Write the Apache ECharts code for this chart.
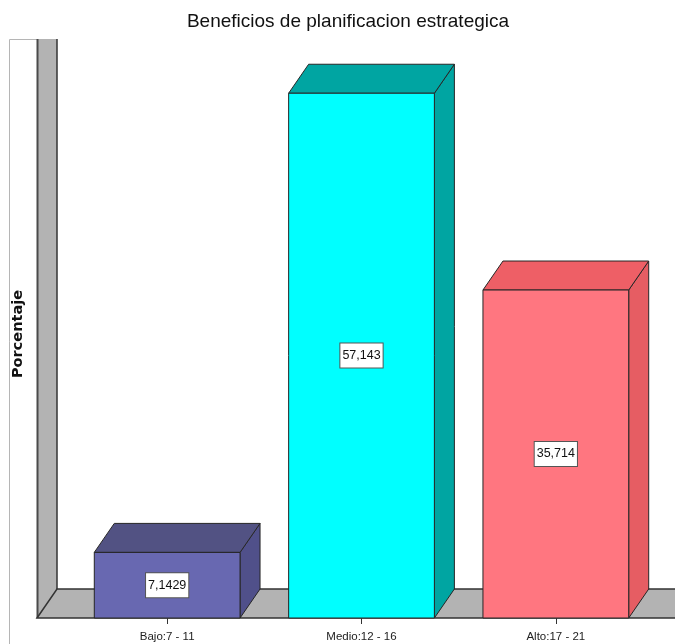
<!DOCTYPE html>
<html>
<head>
<meta charset="utf-8">
<script src="https://cdn.jsdelivr.net/npm/echarts@6/dist/echarts.min.js"></script>
<style>
  html, body { margin: 0; padding: 0; background: #fff; }
  #chart { width: 675px; height: 644px; }
</style>
</head>
<body>
<div id="chart"></div>
<script>
// Data
const categories = ['Bajo:7 - 11', 'Medio:12 - 16', 'Alto:17 - 21'];
const percentages = [7.1429, 57.143, 35.714];
const frontColors = ['#6868b1', '#00ffff', '#ff7680'];
const topColors = ['#525283', '#00a5a2', '#ee5f66'];
const sideColors = ['#50508a', '#00a5a2', '#e65d63'];

// Layout
const GRID = { left: 70, right: 22, top: 67, bottom: 26 };
const DEPTH_X = 20, DEPTH_Y = 29;
const W = 675, H = 644;
const floorY = H - GRID.bottom;
const wallX = 37;
const FONT = 'Liberation Sans, Arial, sans-serif';

const chart = echarts.init(document.getElementById('chart'), null, { renderer: 'canvas' });

// Draws one 3D box (front, top and side faces) plus its value tag
function renderBox(params, api) {
  const i = params.dataIndex;
  const v = api.value(1);
  const top = api.coord([api.value(0), v]);
  const base = api.coord([api.value(0), 0]);
  const w = api.size([1, 0])[0] * 0.75;
  const x0 = top[0] - w / 2, x1 = top[0] + w / 2;
  const y0 = top[1], y1 = base[1];
  const stroke = { stroke: '#262626', lineWidth: 1 };
  const label = String(percentages[i]).replace('.', ',');
  return {
    type: 'group',
    children: [
      { type: 'polygon', shape: { points: [[x1, y0], [x1 + DEPTH_X, y0 - DEPTH_Y], [x1 + DEPTH_X, y1 - DEPTH_Y], [x1, y1]] },
        style: Object.assign({ fill: sideColors[i] }, stroke) },
      { type: 'polygon', shape: { points: [[x0, y0], [x0 + DEPTH_X, y0 - DEPTH_Y], [x1 + DEPTH_X, y0 - DEPTH_Y], [x1, y0]] },
        style: Object.assign({ fill: topColors[i] }, stroke) },
      { type: 'rect', shape: { x: x0, y: y0, width: w, height: y1 - y0 },
        style: Object.assign({ fill: frontColors[i] }, stroke) },
      { type: 'text', x: top[0], y: (y0 + y1) / 2,
        style: { text: label, align: 'center', verticalAlign: 'middle', fontSize: 12.5, fontFamily: FONT,
                 fill: '#111', backgroundColor: '#fff', borderColor: '#555', borderWidth: 1, padding: [6, 2, 5, 2] } }
    ]
  };
}

const option = {
  animation: false,
  title: {
    text: 'Beneficios de planificacion estrategica',
    left: 343, textAlign: 'center', top: 7,
    textStyle: { fontFamily: FONT, fontSize: 19, fontWeight: 'normal', color: '#111' }
  },
  grid: Object.assign({ outerBoundsMode: 'none', containLabel: false }, GRID),
  xAxis: {
    type: 'category', data: categories,
    axisLine: { show: false },
    axisTick: { show: true, alignWithLabel: true, length: 6, lineStyle: { color: '#333' } },
    axisLabel: { fontFamily: FONT, fontSize: 11.5, color: '#222', margin: 13 },
    z: 10
  },
  yAxis: { type: 'value', min: 0, max: 60, show: false },
  graphic: [
    // frame of the axis-title strip
    { type: 'polyline', shape: { points: [[9.5, H], [9.5, 39.5], [wallX, 39.5]] }, style: { stroke: '#b5b5b5', lineWidth: 1, fill: null }, z: 0 },
    // side wall
    { type: 'polygon', shape: { points: [[wallX, 39], [wallX + DEPTH_X, 39], [wallX + DEPTH_X, floorY - DEPTH_Y], [wallX, floorY]] },
      style: { fill: '#b3b3b3' }, z: 0 },
    { type: 'line', shape: { x1: wallX + 0.5, y1: 39, x2: wallX + 0.5, y2: floorY }, style: { stroke: '#4a4a4a', lineWidth: 2 }, z: 0 },
    { type: 'line', shape: { x1: wallX + DEPTH_X, y1: 39, x2: wallX + DEPTH_X, y2: floorY - DEPTH_Y }, style: { stroke: '#333', lineWidth: 1.5 }, z: 0 },
    // floor
    { type: 'polygon', shape: { points: [[wallX, floorY], [wallX + DEPTH_X, floorY - DEPTH_Y], [W + 40, floorY - DEPTH_Y], [W + 40, floorY]] },
      style: { fill: '#b3b3b3', stroke: '#333', lineWidth: 1.5 }, z: 0 },
    // axis title
    { type: 'text', x: 18, y: 334, rotation: Math.PI / 2,
      style: { text: 'Porcentaje', align: 'center', verticalAlign: 'middle', fontFamily: 'DejaVu Sans, sans-serif',
               fontSize: 14.5, fontWeight: 'bold', fill: '#111' }, z: 1 }
  ],
  series: [{
    type: 'custom',
    renderItem: renderBox,
    clip: false,
    z: 5,
    data: percentages.map((v, i) => [i, v])
  }]
};
chart.setOption(option);
</script>
</body>
</html>
